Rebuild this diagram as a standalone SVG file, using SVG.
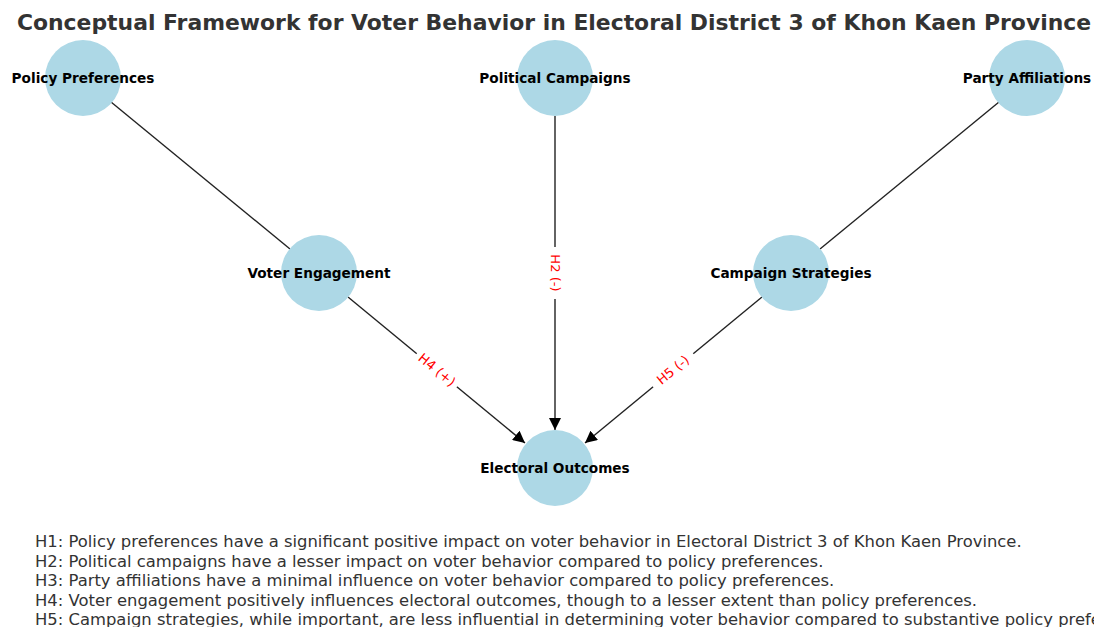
<svg xmlns="http://www.w3.org/2000/svg" width="1094" height="627" viewBox="0 0 1094 627">
<style>
.node{fill:#add8e6}
.nl{font-family:"DejaVu Sans",sans-serif;font-weight:bold;font-size:13.65px;fill:#000;text-anchor:middle}
.edge{stroke:#222;stroke-width:1.4;fill:none}
.el{font-family:"DejaVu Sans",sans-serif;font-size:13.1px;fill:#ff0000;text-anchor:middle;dominant-baseline:central}
.lb{fill:#fff}
.title{font-family:"DejaVu Sans",sans-serif;font-weight:bold;font-size:21.9px;fill:#333;text-anchor:middle}
.hyp{font-family:"DejaVu Sans",sans-serif;font-size:16.4px;fill:#333}
</style>
<defs>
<marker id="arr" viewBox="0 0 10 10" refX="10" refY="5" markerWidth="12" markerHeight="12" markerUnits="userSpaceOnUse" orient="auto">
<path d="M0,0 L10,5 L0,10 z" fill="#000"/>
</marker>
</defs>
<rect width="1094" height="627" fill="#fff"/>
<text class="title" x="554" y="30">Conceptual Framework for Voter Behavior in Electoral District 3 of Khon Kaen Province</text>
<g id="connectors">
<line class="edge" x1="111" y1="102" x2="290" y2="249"/>
<line class="edge" x1="999" y1="102" x2="820" y2="249"/>
<line class="edge" x1="555" y1="116" x2="555" y2="430" marker-end="url(#arr)"/>
<line class="edge" x1="348" y1="297" x2="525" y2="443" marker-end="url(#arr)"/>
<line class="edge" x1="762" y1="297" x2="585" y2="443" marker-end="url(#arr)"/>
<g transform="translate(555,273) rotate(90)"><rect class="lb" x="-26" y="-8" width="52" height="16"/><text class="el" x="0" y="0">H2 (-)</text></g>
<g transform="translate(437,370) rotate(39.6)"><rect class="lb" x="-26" y="-8" width="52" height="16"/><text class="el" x="0" y="0">H4 (+)</text></g>
<g transform="translate(673,370) rotate(-39.6)"><rect class="lb" x="-26" y="-8" width="52" height="16"/><text class="el" x="0" y="0">H5 (-)</text></g>
</g>
<g id="n-policy"><circle class="node" cx="83" cy="78" r="38"/><text class="nl" x="83" y="83">Policy Preferences</text></g>
<g id="n-campaigns"><circle class="node" cx="555" cy="78" r="38"/><text class="nl" x="555" y="83">Political Campaigns</text></g>
<g id="n-party"><circle class="node" cx="1027" cy="78" r="38"/><text class="nl" x="1027" y="83">Party Affiliations</text></g>
<g id="n-engagement"><circle class="node" cx="319" cy="273" r="38"/><text class="nl" x="319" y="278">Voter Engagement</text></g>
<g id="n-strategies"><circle class="node" cx="791" cy="273" r="38"/><text class="nl" x="791" y="278">Campaign Strategies</text></g>
<g id="n-outcomes"><circle class="node" cx="555" cy="468" r="38"/><text class="nl" x="555" y="473">Electoral Outcomes</text></g>
<g id="hypotheses">
<text class="hyp" x="35" y="547">H1: Policy preferences have a significant positive impact on voter behavior in Electoral District 3 of Khon Kaen Province.</text>
<text class="hyp" x="35" y="566.5">H2: Political campaigns have a lesser impact on voter behavior compared to policy preferences.</text>
<text class="hyp" x="35" y="586">H3: Party affiliations have a minimal influence on voter behavior compared to policy preferences.</text>
<text class="hyp" x="35" y="605.5">H4: Voter engagement positively influences electoral outcomes, though to a lesser extent than policy preferences.</text>
<text class="hyp" x="35" y="625">H5: Campaign strategies, while important, are less influential in determining voter behavior compared to substantive policy preferences.</text>
</g>
</svg>
